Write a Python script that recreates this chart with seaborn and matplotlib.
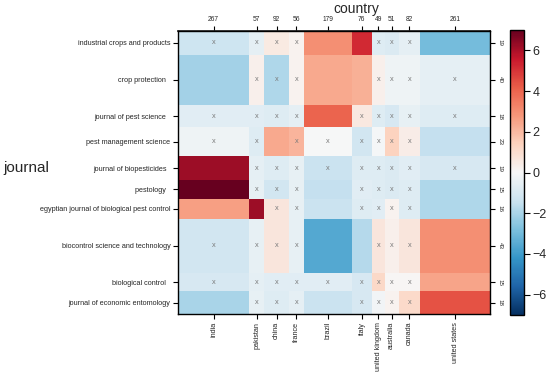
import numpy as np
import matplotlib
matplotlib.use("Agg")
import matplotlib.pyplot as plt
from matplotlib.colors import LinearSegmentedColormap
import seaborn as sns

countries = ["india", "pakistan", "china", "france", "brazil", "italy",
             "united kingdom", "australia", "canada", "united states"]
country_n = [267, 57, 92, 56, 179, 76, 49, 51, 82, 261]

journals = ["industrial crops and products", "crop protection  ",
            "journal of pest science  ", "pest management science",
            "journal of biopesticides  ", "pestology  ",
            "egyptian journal of biological pest control",
            "biocontrol science and technology", "biological control  ",
            "journal of economic entomology"]
journal_n = [19, 40, 18, 23, 19, 15, 16, 43, 15, 18]

# Pearson residuals (rows = journals, columns = countries)
residuals = [
    [-1.3, -0.6,  0.5,  0.2,  3.0,  5.2, -0.8, -0.9, -0.6, -2.9],
    [-2.1,  0.3, -1.9,  0.2,  2.4,  2.2,  0.3, -0.3, -0.3, -0.6],
    [-0.7, -0.7, -0.8, -0.6,  4.0,  0.6, -0.8, -1.0, -0.5, -0.8],
    [-0.3, -0.8,  2.4,  2.1, -0.05, -1.2, -0.1,  1.4,  0.4, -1.5],
    [ 6.2, -0.6, -0.8, -0.5, -1.4, -0.8, -0.8, -0.9, -0.7, -1.0],
    [ 7.0, -0.5, -1.2, -0.5, -1.5, -0.7, -0.8, -0.9, -0.8, -1.9],
    [ 2.6,  6.2,  0.7, -0.5, -1.4, -0.8, -0.7,  0.2, -0.8, -1.9],
    [-1.2, -0.5,  0.7, -0.5, -3.6, -1.8,  0.7,  0.3,  0.7,  3.0],
    [-1.0, -0.6, -0.7, -0.7, -0.7, -1.0,  1.2,  0.1,  0.1,  2.5],
    [-2.0, -0.5, -0.8, -0.6, -1.4, -1.0, -0.2,  0.2,  1.1,  4.4],
]

# 1 = not significant (marked with x)
not_significant = [
    [1, 1, 1, 1, 0, 0, 1, 1, 1, 0],
    [0, 1, 1, 1, 0, 0, 1, 1, 1, 1],
    [1, 1, 1, 1, 0, 1, 1, 1, 1, 1],
    [1, 1, 0, 1, 1, 1, 1, 1, 1, 0],
    [0, 1, 1, 1, 1, 1, 1, 1, 1, 1],
    [0, 1, 1, 1, 0, 1, 1, 1, 1, 0],
    [0, 0, 1, 1, 0, 1, 1, 1, 1, 0],
    [1, 1, 1, 1, 0, 0, 1, 1, 1, 0],
    [1, 1, 1, 1, 1, 1, 1, 1, 1, 0],
    [0, 1, 1, 1, 0, 1, 1, 1, 1, 0],
]

sns.set_theme(style="white")
plt.rcParams["font.family"] = ["Liberation Sans", "DejaVu Sans"]

cmap = LinearSegmentedColormap.from_list("rdbu_bright", [
    "#053061", "#1f64a8", "#3596c8", "#7cc0de", "#cbe3f0", "#f7f7f7",
    "#fcd3bf", "#f6977a", "#ea5d48", "#c8172c", "#67001f"])

vals = np.array(residuals, dtype=float)
cn = np.array(country_n)
jn = np.array(journal_n)
expanded = np.repeat(np.repeat(vals, jn, axis=0), cn, axis=1)

fig = plt.figure(figsize=(5.5, 3.76), dpi=100)
ax = fig.add_axes([178 / 550, 1 - 314 / 376, 312 / 550, 283 / 376])
cax = fig.add_axes([510 / 550, 1 - 315 / 376, 14 / 550, 285 / 376])

sns.heatmap(expanded, cmap=cmap, vmin=-7, vmax=7, ax=ax, cbar_ax=cax,
            xticklabels=False, yticklabels=False, rasterized=True)

xc = np.cumsum(cn) - cn / 2.0
yc = np.cumsum(jn) - jn / 2.0

for i in range(len(journals)):
    for j in range(len(countries)):
        if not_significant[i][j]:
            ax.text(xc[j], yc[i], "x", ha="center", va="center",
                    fontsize=5.3, color="#7a7a7a")

for s in ax.spines.values():
    s.set_visible(True)
    s.set_color("black")
    s.set_linewidth(1.0)

ax.set_xticks(xc)
ax.set_xticklabels(countries, rotation=90, fontsize=5.2, va="top")
ax.set_yticks(yc)
ax.set_yticklabels(journals, fontsize=5.2, rotation=0)
ax.tick_params(axis="both", which="major", length=3.5, width=0.8,
               color="black", pad=2, bottom=True, left=True)

top = ax.secondary_xaxis("top")
top.set_xticks(xc)
top.set_xticklabels([str(v) for v in country_n], fontsize=4.8)
top.tick_params(length=3.5, width=0.8, color="black", pad=2)

right = ax.secondary_yaxis("right")
right.set_yticks(yc)
right.set_yticklabels([str(v) for v in journal_n], fontsize=4.5, rotation=270,
                      va="center")
right.tick_params(length=3.5, width=0.8, color="black", pad=2)

cbar = ax.collections[0].colorbar
cbar.set_ticks([-6, -4, -2, 0, 2, 4, 6])
cbar.ax.tick_params(labelsize=9, length=4, width=0.8, color="black", pad=2,
                    right=True)
cbar.outline.set_visible(True)
cbar.outline.set_edgecolor("black")
cbar.outline.set_linewidth(1.0)

fig.text(356 / 550, 1 - 9 / 376, "country", ha="center", va="center",
         fontsize=10)
fig.text(3 / 550, 1 - 168 / 376, "journal", ha="left", va="center",
         fontsize=11)

fig.savefig("out.png", dpi=100)
